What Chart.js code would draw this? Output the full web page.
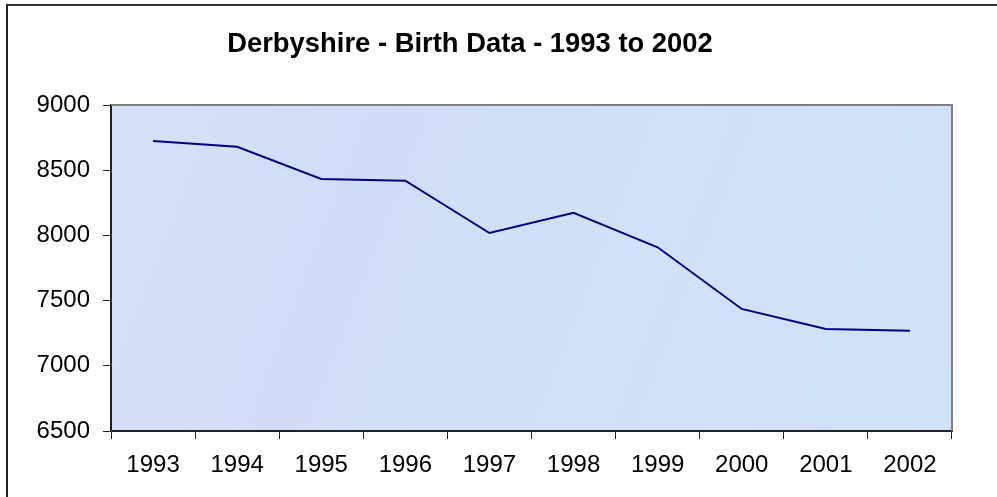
<!DOCTYPE html>
<html>
<head>
<meta charset="utf-8">
<script src="https://cdn.jsdelivr.net/npm/chart.js@4"></script>
<style>
  html, body { margin: 0; padding: 0; background: #fff; }
  #wrap { position: relative; width: 997px; height: 497px; }
  #frame { position: absolute; left: 6px; top: 4px; right: 0; bottom: 0; border-left: 2px solid #222; border-top: 2px solid #333; pointer-events: none; }
  canvas { position: absolute; left: 0; top: 0; }
</style>
</head>
<body>
<div id="wrap">
  <canvas id="c" width="997" height="497"></canvas>
  <div id="frame"></div>
</div>
<script>
const titleText = 'Derbyshire - Birth Data - 1993 to 2002';
const years = ['1993','1994','1995','1996','1997','1998','1999','2000','2001','2002'];
const births = [8724, 8680, 8433, 8420, 8018, 8174, 7909, 7436, 7282, 7269];
const yMin = 6500, yMax = 9000, yStep = 500;

const bgPlugin = {
  id: 'bgPlugin',
  beforeDraw(chart) {
    const {ctx, chartArea: a} = chart;
    ctx.save();
    const g = ctx.createLinearGradient(a.left, a.top, a.right, a.bottom);
    g.addColorStop(0, '#d6e0f8');
    g.addColorStop(0.3, '#d2dcf6');
    g.addColorStop(0.6, '#d3e0f7');
    g.addColorStop(1, '#cfe3f8');
    ctx.fillStyle = g;
    ctx.fillRect(a.left, a.top, a.right - a.left, a.bottom - a.top);
    ctx.restore();
  },
  afterDatasetsDraw(chart) {
    const {ctx, chartArea: a} = chart;
    ctx.save();
    ctx.strokeStyle = '#808080';
    ctx.lineWidth = 2;
    ctx.beginPath();
    ctx.moveTo(a.left, a.top);
    ctx.lineTo(a.right, a.top);
    ctx.lineTo(a.right, a.bottom);
    ctx.stroke();
    ctx.restore();
  },
  afterDraw(chart) {
    const {ctx} = chart;
    ctx.save();
    ctx.font = 'bold 27.4px "Liberation Sans", Arial, sans-serif';
    ctx.fillStyle = '#000';
    ctx.textAlign = 'center';
    ctx.textBaseline = 'alphabetic';
    ctx.fillText(titleText, 470, 52);
    ctx.restore();
  }
};

new Chart(document.getElementById('c'), {
  type: 'line',
  data: {
    labels: years,
    datasets: [{
      data: births,
      borderColor: '#000080',
      borderWidth: 2,
      pointRadius: 0,
      tension: 0,
      fill: false
    }]
  },
  options: {
    responsive: false,
    animation: false,
    devicePixelRatio: 1,
    layout: { padding: { left: 0, right: 45, top: 105, bottom: 0 } },
    plugins: { legend: { display: false }, title: { display: false }, tooltip: { enabled: false } },
    scales: {
      x: {
        type: 'category',
        offset: true,
        grid: { offset: true, drawOnChartArea: false, drawTicks: true, tickLength: 8, color: '#222', lineWidth: 1 },
        border: { display: true, color: '#222', width: 2 },
        ticks: { color: '#000', font: { family: '"Liberation Sans", Arial, sans-serif', size: 24 }, padding: 12, maxRotation: 0, autoSkip: false },
        afterFit(s) { s.height = 66; }
      },
      y: {
        min: yMin, max: yMax,
        grid: { drawOnChartArea: false, drawTicks: true, tickLength: 8, color: '#222', lineWidth: 1 },
        border: { display: true, color: '#222', width: 2 },
        ticks: { stepSize: yStep, color: '#000', font: { family: '"Liberation Sans", Arial, sans-serif', size: 24 }, padding: 13, callback: v => String(v) },
        afterFit(s) { s.width = 111; }
      }
    }
  },
  plugins: [bgPlugin]
});
</script>
</body>
</html>
